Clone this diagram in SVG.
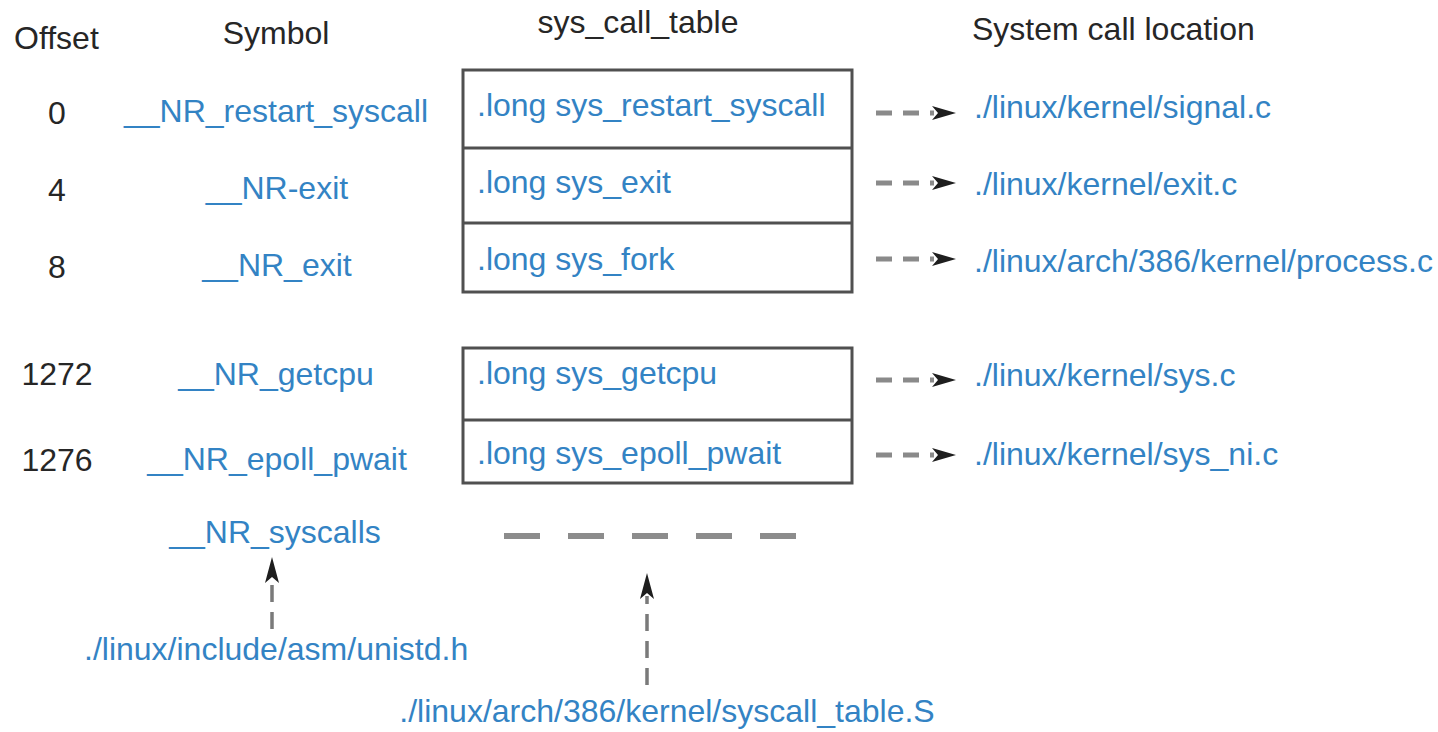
<svg xmlns="http://www.w3.org/2000/svg" width="1438" height="732" viewBox="0 0 1438 732">
  <style>
    text { font-family: "Liberation Sans", Arial, sans-serif; font-size: 32px; }
    .hdr { fill: #262626; }
    .off { fill: #262626; text-anchor: middle; }
    .sym { fill: #3383c4; text-anchor: middle; }
    .ent { fill: #3383c4; }
    .loc { fill: #3383c4; }
    .src { fill: #3383c4; }
    .box { fill: #ffffff; stroke: #505050; stroke-width: 3; }
    .div { stroke: #505050; stroke-width: 3; }
    .hdash { stroke: #8a8a8a; stroke-width: 5; stroke-dasharray: 16 11; fill: none; }
    .vdash { stroke: #7a7a7a; stroke-width: 3.5; stroke-dasharray: 17 10; fill: none; }
    .cont { stroke: #8c8c8c; stroke-width: 6; stroke-dasharray: 36 28; fill: none; }
    .head { fill: #1e1e1e; }
  </style>
  <defs>
    <!-- notched arrowhead pointing right, tip at origin -->
    <path id="headR" class="head" d="M0,0 L-24,-7 L-18,0 L-24,7 Z"/>
    <!-- notched arrowhead pointing up, tip at origin -->
    <path id="headU" class="head" d="M0,0 L-7,26 L0,20 L7,26 Z"/>
  </defs>

  <rect width="1438" height="732" fill="#ffffff"/>

  <!-- column headers -->
  <g id="headers">
    <text class="hdr" x="14" y="49">Offset</text>
    <text class="hdr" x="276" y="44" text-anchor="middle">Symbol</text>
    <text class="hdr" x="638" y="33" text-anchor="middle">sys_call_table</text>
    <text class="hdr" x="972" y="40">System call location</text>
  </g>

  <!-- offsets -->
  <g id="offsets">
    <text class="off" x="57" y="124">0</text>
    <text class="off" x="57" y="201">4</text>
    <text class="off" x="57" y="278">8</text>
    <text class="off" x="57" y="385">1272</text>
    <text class="off" x="57" y="471">1276</text>
  </g>

  <!-- symbols -->
  <g id="symbols">
    <text class="sym" x="276" y="122">__NR_restart_syscall</text>
    <text class="sym" x="277" y="199">__NR-exit</text>
    <text class="sym" x="277" y="276">__NR_exit</text>
    <text class="sym" x="276" y="385">__NR_getcpu</text>
    <text class="sym" x="277" y="470">__NR_epoll_pwait</text>
    <text class="sym" x="275" y="543">__NR_syscalls</text>
  </g>

  <!-- table, first block -->
  <g id="table-top">
    <rect class="box" x="463" y="70" width="389" height="222"/>
    <line class="div" x1="463" y1="148" x2="852" y2="148"/>
    <line class="div" x1="463" y1="223" x2="852" y2="223"/>
    <text class="ent" x="477" y="116">.long sys_restart_syscall</text>
    <text class="ent" x="477" y="193">.long sys_exit</text>
    <text class="ent" x="477" y="270">.long sys_fork</text>
  </g>

  <!-- table, last block -->
  <g id="table-bottom">
    <rect class="box" x="463" y="348" width="389" height="135"/>
    <line class="div" x1="463" y1="420" x2="852" y2="420"/>
    <text class="ent" x="477" y="384">.long sys_getcpu</text>
    <text class="ent" x="477" y="464">.long sys_epoll_pwait</text>
  </g>

  <!-- source locations -->
  <g id="locations">
    <text class="loc" x="974" y="118">./linux/kernel/signal.c</text>
    <text class="loc" x="974" y="195">./linux/kernel/exit.c</text>
    <text class="loc" x="974" y="272">./linux/arch/386/kernel/process.c</text>
    <text class="loc" x="974" y="386">./linux/kernel/sys.c</text>
    <text class="loc" x="974" y="465">./linux/kernel/sys_ni.c</text>
  </g>

  <g id="source-files">
    <text class="src" x="84" y="660">./linux/include/asm/unistd.h</text>
    <text class="src" x="667" y="722" text-anchor="middle">./linux/arch/386/kernel/syscall_table.S</text>
  </g>

  <!-- connectors -->
  <g id="connectors">
    <line class="hdash" x1="876" y1="113" x2="934" y2="113"/>
    <use href="#headR" x="956" y="113"/>
    <line class="hdash" x1="876" y1="183" x2="934" y2="183"/>
    <use href="#headR" x="956" y="183"/>
    <line class="hdash" x1="876" y1="259" x2="934" y2="259"/>
    <use href="#headR" x="956" y="259"/>
    <line class="hdash" x1="876" y1="380" x2="934" y2="380"/>
    <use href="#headR" x="956" y="380"/>
    <line class="hdash" x1="876" y1="455" x2="934" y2="455"/>
    <use href="#headR" x="956" y="455"/>

    <!-- table continues -->
    <line class="cont" x1="504" y1="536" x2="796" y2="536"/>

    <line class="vdash" x1="272" y1="629" x2="272" y2="580"/>
    <use href="#headU" x="272" y="557"/>
    <line class="vdash" x1="647" y1="685" x2="647" y2="596"/>
    <use href="#headU" x="647" y="573"/>
  </g>
</svg>
